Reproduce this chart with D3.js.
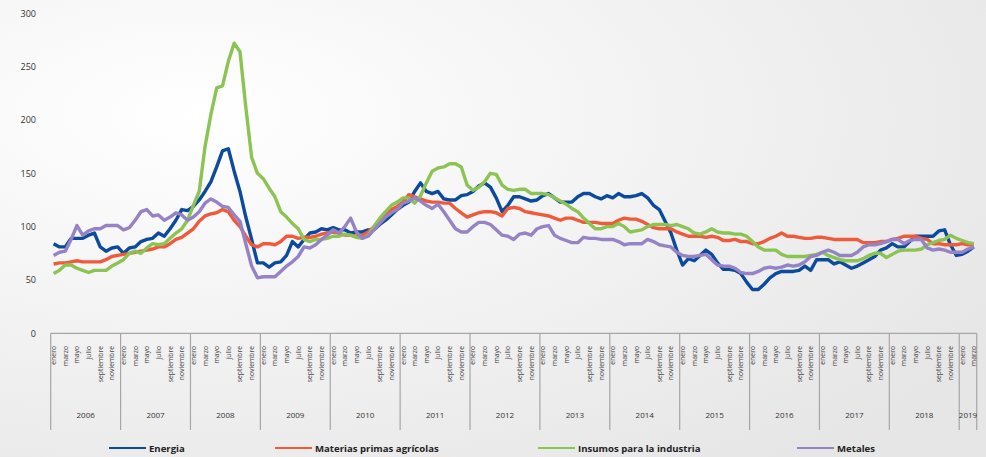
<!DOCTYPE html>
<html>
<head>
<meta charset="utf-8">
<script src="https://cdn.jsdelivr.net/npm/d3@7"></script>
<style>
  body { margin: 0; }
  svg { display: block; }
</style>
</head>
<body>
<div id="plot"></div>
<script>
// data, monthly from enero 2006 to marzo 2019
var years = ["2006", "2007", "2008", "2009", "2010", "2011", "2012", "2013", "2014", "2015", "2016", "2017", "2018", "2019"];
var monthNames = ["enero", "febrero", "marzo", "abril", "mayo", "junio", "julio", "agosto", "septiembre", "octubre", "noviembre", "diciembre"];
var seriesNames = ["Energia", "Materias primas agrícolas", "Insumos para la industria", "Metales"];

var energia = [
  84, 81, 81, 89, 89, 89, 92, 94, 81, 77, 80, 81,
  75, 80, 81, 86, 88, 89, 94, 91, 98, 106, 116, 115,
  119, 125, 133, 142, 156, 171, 173, 152, 133, 109, 88, 66,
  66, 62, 66, 67, 73, 86, 81, 88, 94, 95, 98, 97,
  99, 97, 97, 94, 95, 95, 97, 97, 102, 106, 111, 116,
  120, 123, 133, 141, 133, 131, 133, 126, 125, 125, 129, 130,
  133, 138, 141, 137, 127, 114, 120, 128, 128, 126, 124, 125,
  129, 131, 127, 123, 123, 123, 128, 131, 131, 128, 126, 129,
  127, 131, 128, 128, 129, 131, 127, 120, 116, 105, 94, 78,
  64, 70, 68, 73, 78, 74, 66, 60, 60, 59, 56, 48,
  41, 41, 46, 52, 56, 58, 58, 58, 59, 63, 59, 69,
  69, 69, 65, 67, 64, 61, 63, 66, 69, 72, 78, 80,
  84, 81, 81, 86, 91, 91, 91, 91, 96, 97, 83, 73,
  74, 77, 81
];
var materias = [
  65, 66, 66, 67, 68, 67, 67, 67, 67, 69, 72, 73,
  74, 75, 76, 77, 78, 79, 81, 81, 84, 88, 90, 94,
  98, 105, 110, 112, 113, 116, 114, 106, 100, 91, 83, 81,
  84, 84, 83, 86, 91, 91, 89, 90, 90, 91, 93, 94,
  95, 94, 92, 92, 91, 92, 95, 100, 106, 111, 116, 119,
  123, 130, 128, 126, 124, 123, 123, 122, 122, 117, 113, 109,
  111, 113, 114, 114, 113, 110, 117, 118, 117, 114, 113, 112,
  111, 110, 108, 106, 108, 108, 106, 104, 104, 104, 103, 103,
  103, 106, 108, 107, 107, 105, 102, 99, 98, 98, 98, 95,
  93, 91, 91, 91, 90, 91, 90, 87, 87, 88, 86, 86,
  84, 84, 86, 89, 91, 94, 91, 91, 90, 89, 89, 90,
  90, 89, 88, 88, 88, 88, 88, 85, 85, 85, 86, 86,
  88, 89, 91, 91, 91, 89, 88, 84, 84, 83, 83, 83,
  84, 83, 83
];
var insumos = [
  56, 59, 64, 64, 61, 59, 57, 59, 59, 59, 63, 66,
  69, 75, 77, 75, 80, 84, 83, 84, 89, 94, 98, 106,
  120, 133, 175, 205, 230, 232, 255, 272, 264, 212, 165, 150,
  145, 136, 128, 114, 109, 103, 98, 88, 86, 88, 88, 89,
  91, 91, 93, 92, 90, 89, 92, 100, 108, 114, 120, 123,
  127, 127, 122, 129, 141, 152, 155, 156, 159, 159, 156, 139,
  134, 137, 142, 150, 149, 139, 135, 134, 135, 135, 131, 131,
  131, 130, 127, 124, 121, 117, 114, 108, 103, 98, 98, 100,
  100, 103, 100, 95, 96, 97, 100, 102, 102, 102, 101, 102,
  100, 98, 94, 93, 95, 98, 95, 94, 94, 93, 93, 91,
  86, 81, 78, 78, 78, 74, 72, 72, 72, 72, 73, 74,
  76, 73, 71, 69, 68, 68, 68, 70, 73, 75, 75, 71,
  74, 77, 78, 78, 78, 79, 83, 85, 87, 88, 92, 89,
  87, 85, 84
];
var metales = [
  73, 76, 77, 88, 101, 92, 96, 98, 98, 101, 101, 101,
  97, 99, 106, 114, 116, 110, 111, 106, 109, 113, 111, 106,
  109, 114, 122, 126, 123, 119, 118, 111, 105, 84, 63, 52,
  53, 53, 53, 58, 63, 67, 72, 81, 80, 83, 88, 92,
  97, 94, 100, 108, 95, 89, 91, 97, 103, 109, 113, 116,
  122, 124, 127, 124, 120, 117, 121, 114, 106, 98, 95, 95,
  100, 104, 104, 102, 97, 92, 91, 88, 93, 94, 92, 98,
  100, 101, 92, 89, 87, 85, 85, 90, 89, 89, 88, 88,
  88, 86, 83, 84, 84, 84, 88, 86, 83, 82, 81, 76,
  73, 72, 72, 73, 74, 69, 64, 63, 63, 61, 57, 56,
  56, 58, 61, 62, 61, 62, 64, 63, 64, 67, 72, 73,
  76, 78, 76, 73, 73, 73, 76, 81, 83, 83, 84, 86,
  88, 88, 84, 87, 88, 88, 80, 78, 79, 78, 76, 76,
  76, 79, 81
];
var yTicks = [0, 50, 100, 150, 200, 250, 300];

var width = 986, height = 457;
var colors = ["#0b4a9c", "#ef5a3b", "#8cc453", "#9683c6"];
var allSeries = [energia, materias, insumos, metales];

var svg = d3.select("#plot")
    .append("svg")
    .attr("width", width)
    .attr("height", height);

// light grey background, whiter towards the upper left
var defs = svg.append("defs");
var grad = defs.append("radialGradient")
    .attr("id", "bg")
    .attr("cx", "20%").attr("cy", "25%").attr("r", "95%");
grad.append("stop").attr("offset", "0%").attr("stop-color", "#ffffff");
grad.append("stop").attr("offset", "100%").attr("stop-color", "#e6e6e6");
svg.append("rect")
    .attr("width", width)
    .attr("height", height)
    .attr("fill", "url(#bg)");

// one band per month
var nMonths = energia.length;
var x = d3.scaleBand()
    .domain(d3.range(nMonths))
    .range([50.7, 976.7]);

var y = d3.scaleLinear()
    .domain([0, 300])
    .range([333.3, 13.3]);

// y axis labels only, no line and no gridlines
svg.append("g")
    .attr("transform", "translate(36,0)")
    .call(d3.axisLeft(y).tickValues(yTicks).tickSize(0).tickPadding(0))
    .call(g => g.select(".domain").remove())
    .selectAll("text")
    .style("font-family", "'Open Sans', sans-serif")
    .style("font-size", "9px")
    .attr("fill", "#333");

// x axis base line
svg.append("line")
    .attr("x1", x.range()[0]).attr("x2", x.range()[1])
    .attr("y1", y(0)).attr("y2", y(0))
    .attr("stroke", "#a6a6a6")
    .attr("stroke-width", 1.2);

// year separators
var yearStarts = years.map((yr, i) => i * 12);
var bounds = yearStarts.map(i => x(i)).concat([x.range()[1]]);
svg.append("g").selectAll("line")
    .data(bounds)
    .enter()
    .append("line")
    .attr("x1", d => d).attr("x2", d => d)
    .attr("y1", y(0)).attr("y2", 430)
    .attr("stroke", "#a6a6a6")
    .attr("stroke-width", 1.2);

// month labels, every other month, rotated
var monthIdx = d3.range(nMonths).filter(i => i % 2 === 0);
svg.append("g").selectAll("text")
    .data(monthIdx)
    .enter()
    .append("text")
    .attr("transform", i => `translate(${x(i) + x.bandwidth() / 2 + 2.5}, 346) rotate(-90)`)
    .style("text-anchor", "end")
    .style("font-family", "'Open Sans', sans-serif")
    .style("font-size", "6.8px")
    .attr("fill", "#444")
    .text(i => monthNames[i % 12]);

// year labels
svg.append("g").selectAll("text")
    .data(years)
    .enter()
    .append("text")
    .attr("x", (d, i) => (bounds[i] + bounds[i + 1]) / 2)
    .attr("y", 418)
    .style("text-anchor", "middle")
    .style("font-family", "'Open Sans', sans-serif")
    .style("font-size", "8px")
    .attr("fill", "#333")
    .text(d => d);

// the four series
var line = d3.line()
    .x((d, i) => x(i) + x.bandwidth() / 2)
    .y(d => y(d));

svg.append("g").selectAll("path")
    .data(allSeries)
    .enter()
    .append("path")
    .attr("d", d => line(d))
    .attr("fill", "none")
    .attr("stroke", (d, i) => colors[i])
    .attr("stroke-width", 3.4)
    .attr("stroke-linejoin", "round");

// legend
var legendX = [109, 275, 538, 797];
var legend = svg.append("g").selectAll("g")
    .data(seriesNames)
    .enter()
    .append("g")
    .attr("transform", (d, i) => `translate(${legendX[i]}, 448)`);

legend.append("line")
    .attr("x1", 0).attr("x2", 37)
    .attr("stroke", (d, i) => colors[i])
    .attr("stroke-width", 2.2);

legend.append("text")
    .attr("x", 40)
    .attr("y", 3.5)
    .style("font-family", "'Open Sans', sans-serif")
    .style("font-weight", "bold")
    .style("font-size", "9.6px")
    .attr("fill", "#222")
    .text(d => d);
</script>
</body>
</html>
